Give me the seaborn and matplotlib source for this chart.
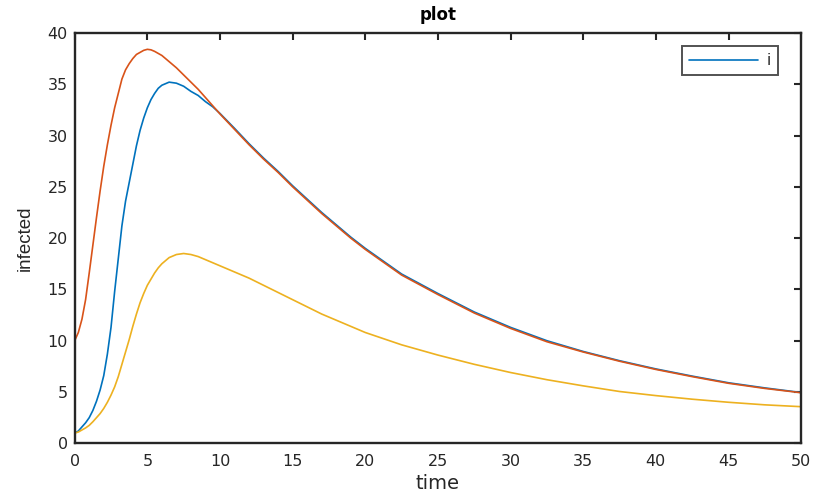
import pandas as pd
import matplotlib.pyplot as plt
import seaborn as sns

# values
t = [0, 0.25, 0.5, 0.75, 1, 1.25, 1.5, 1.75, 2, 2.25, 2.5, 2.75, 3, 3.25, 3.5, 3.75,
     4, 4.25, 4.5, 4.75, 5, 5.25, 5.5, 5.75, 6,
     6.5, 7, 7.5, 8, 8.5, 9, 9.5, 10,
     11, 12, 13, 14, 15, 16, 17, 18, 19, 20,
     22.5, 25, 27.5, 30, 32.5, 35, 37.5, 40, 42.5, 45, 47.5, 50]

i_blue = [1.0, 1.2, 1.6, 2.0, 2.5, 3.2, 4.1, 5.2, 6.6, 8.7, 11.3, 14.8, 18.0, 21.2, 23.6, 25.4,
          27.2, 29.0, 30.5, 31.7, 32.7, 33.5, 34.1, 34.6, 34.9,
          35.2, 35.1, 34.8, 34.3, 33.9, 33.3, 32.8, 32.15,
          30.7, 29.2, 27.8, 26.5, 25.1, 23.8, 22.5, 21.3, 20.1, 19.0,
          16.5, 14.6, 12.8, 11.3, 10.0, 8.95, 8.05, 7.25, 6.55, 5.9, 5.4, 4.95]

i_red = [10.0, 10.8, 12.1, 14.0, 16.6, 19.3, 22.0, 24.6, 27.0, 29.1, 31.0, 32.7, 34.1, 35.5, 36.4, 37.0,
         37.5, 37.9, 38.1, 38.3, 38.4, 38.35, 38.2, 38.0, 37.8,
         37.2, 36.6, 35.9, 35.2, 34.5, 33.7, 32.9, 32.1,
         30.6, 29.1, 27.7, 26.4, 25.0, 23.7, 22.4, 21.2, 20.0, 18.9,
         16.4, 14.5, 12.7, 11.2, 9.9, 8.9, 8.0, 7.2, 6.5, 5.85, 5.35, 4.93]

i_yellow = [1.0, 1.1, 1.3, 1.5, 1.75, 2.1, 2.5, 2.9, 3.4, 4.0, 4.7, 5.5, 6.5, 7.7, 8.9, 10.1,
            11.4, 12.6, 13.7, 14.6, 15.4, 16.0, 16.6, 17.1, 17.5,
            18.1, 18.4, 18.5, 18.4, 18.2, 17.9, 17.6, 17.3,
            16.7, 16.1, 15.4, 14.7, 14.0, 13.3, 12.6, 12.0, 11.4, 10.8,
            9.6, 8.6, 7.7, 6.9, 6.2, 5.6, 5.05, 4.65, 4.3, 4.0, 3.75, 3.57]

df = pd.DataFrame({'time': t, 'blue': i_blue, 'red': i_red, 'yellow': i_yellow})

sns.set_style("white")
plt.rcParams['font.family'] = ['DejaVu Sans']
plt.rcParams['xtick.direction'] = 'in'
plt.rcParams['ytick.direction'] = 'in'

fig = plt.figure(figsize=(8.19, 4.94), dpi=100)
ax = fig.add_axes([0.0912, 0.1026, 0.887, 0.8308])

sns.lineplot(data=df, x='time', y='blue', color='#0072BD', linewidth=1.2, label='i', ax=ax)
sns.lineplot(data=df, x='time', y='red', color='#D95319', linewidth=1.2, legend=False, ax=ax)
sns.lineplot(data=df, x='time', y='yellow', color='#EDB120', linewidth=1.2, legend=False, ax=ax)

ax.set_xlim(0, 50)
ax.set_ylim(0, 40)
ax.set_xticks(range(0, 51, 5))
ax.set_yticks(range(0, 41, 5))
ax.tick_params(axis='both', which='both', top=True, right=True, length=5, width=1.5,
               color='#262626', labelsize=11.5, labelcolor='#262626')
ax.tick_params(axis='x', pad=8)
ax.tick_params(axis='y', pad=5)
for s in ax.spines.values():
    s.set_color('#262626')
    s.set_linewidth(1.7)

ax.set_xlabel('time', fontsize=14, color='#262626', labelpad=3)
ax.set_ylabel('infected', fontsize=13.5, color='#262626', labelpad=10,
              family=['Liberation Sans', 'DejaVu Sans'])
ax.set_title('plot', fontsize=12, fontweight='bold', color='#000000', pad=9)

leg = ax.legend(loc='upper right', bbox_to_anchor=(0.968, 0.968), borderaxespad=0,
                fancybox=False, frameon=True, fontsize=11, handlelength=4.5,
                borderpad=0.45, handletextpad=0.6)
leg.get_frame().set_edgecolor('#262626')
leg.get_frame().set_linewidth(1.4)

plt.savefig('out.png', dpi=100)
